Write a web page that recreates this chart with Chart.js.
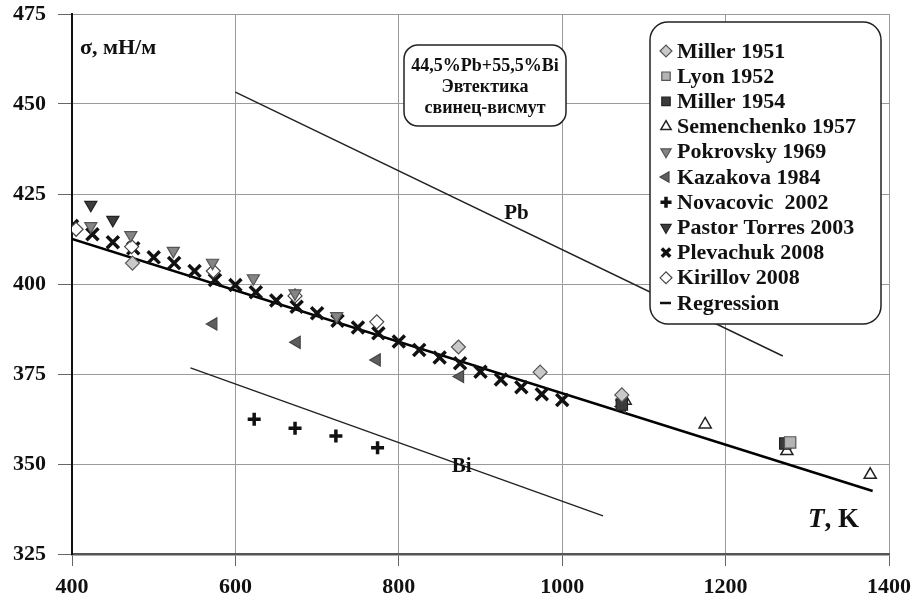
<!DOCTYPE html>
<html>
<head>
<meta charset="utf-8">
<script src="https://cdn.jsdelivr.net/npm/chart.js@4.4.0/dist/chart.umd.min.js"></script>
<style>
  body { margin: 0; background: #fff; }
  #wrap { width: 913px; height: 614px; }
</style>
</head>
<body>
<div id="wrap"><canvas id="chart"></canvas></div>
<script>
// data: T in K, sigma in mN/m
const miller1951T = [474, 873, 973, 1073];
const miller1951S = [405.8, 382.5, 375.5, 369.2];
const lyonT = [1279];
const lyonS = [356];
const miller1954T = [1073, 1273];
const miller1954S = [366.5, 355.7];
const semenT = [1077, 1175, 1275, 1377];
const semenS = [367.6, 361, 353.6, 347];
const pokrovT = [423, 472, 524, 572, 622, 673, 724];
const pokrovS = [416.1, 413.6, 409.2, 405.9, 401.6, 397.4, 391.1];
const kazakT = [573, 675, 773, 875, 1073];
const kazakS = [388.9, 383.8, 378.9, 374.3, 366];
const novacT = [623, 673, 723, 774];
const novacS = [362.4, 359.9, 357.8, 354.5];
const pastorT = [423, 450, 1073];
const pastorS = [422, 417.8, 366.8];
const plevT = [400, 425, 450, 475, 500, 525, 550, 575, 600, 625, 650, 675, 700,
               725, 750, 775, 800, 825, 850, 875, 900, 925, 950, 975, 1000];
const plevS = [416.1, 413.8, 411.6, 409.9, 407.4, 405.8, 403.6, 401.1, 399.7, 397.7, 395.4, 393.7, 391.9,
               389.8, 387.9, 386.3, 384, 381.7, 379.6, 378, 375.6, 373.5, 371.3, 369.4, 367.8];
const kirillovT = [405, 473, 573, 673, 773];
const kirillovS = [415.2, 410.4, 403.6, 396.7, 389.5];
const regT = [400, 1380];
const regS = [412.5, 342.5];
const pbT = [600, 1270];
const pbS = [453.3, 380];
const biT = [545, 1050];
const biS = [376.7, 335.6];

const xTicks = [400, 600, 800, 1000, 1200, 1400];
const yTicks = [325, 350, 375, 400, 425, 450, 475];

const SERIF = "'Liberation Serif', 'Times New Roman', serif";

function pts(xs, ys) { return xs.map((x, i) => ({ x, y: ys[i] })); }

function markers(label, xs, ys, style, extra) {
  return Object.assign({
    label,
    data: pts(xs, ys),
    showLine: false,
    pointStyle: style,
    pointRadius: 7,
    pointBorderWidth: 1.2,
    pointBackgroundColor: '#fff',
    pointBorderColor: '#333'
  }, extra);
}

function line(label, xs, ys, width, color) {
  return {
    label, data: pts(xs, ys), showLine: true, pointRadius: 0,
    borderColor: color, borderWidth: width, fill: false
  };
}

const datasets = [
  line('Pb', pbT, pbS, 1.4, '#222'),
  line('Bi', biT, biS, 1.4, '#222'),
  markers('Miller 1951', miller1951T, miller1951S, 'rectRot', { pointBackgroundColor: '#c9c9c9', pointBorderColor: '#555' }),
  markers('Lyon 1952', lyonT, lyonS, 'rect', { pointRadius: 8, pointBackgroundColor: '#b4b4b4', pointBorderColor: '#555' }),
  markers('Miller 1954', miller1954T, miller1954S, 'rect', { pointRadius: 8, pointBackgroundColor: '#3a3a3a', pointBorderColor: '#222' }),
  markers('Semenchenko 1957', semenT, semenS, 'triangle', { pointBorderColor: '#222', pointBorderWidth: 1.5 }),
  markers('Pokrovsky 1969', pokrovT, pokrovS, 'triangle', { pointRotation: 180, pointBackgroundColor: '#858585', pointBorderColor: '#555' }),
  markers('Kazakova 1984', kazakT, kazakS, 'triangle', { pointRotation: 270, pointBackgroundColor: '#5e5e5e', pointBorderColor: '#444' }),
  markers('Novacovic  2002', novacT, novacS, 'cross', { pointRadius: 6.5, pointBorderWidth: 3.5, pointBorderColor: '#111' }),
  markers('Pastor Torres 2003', pastorT, pastorS, 'triangle', { pointRotation: 180, pointBackgroundColor: '#3d3d3d', pointBorderColor: '#222' }),
  markers('Kirillov 2008', kirillovT, kirillovS, 'rectRot', { pointBorderColor: '#444' }),
  markers('Plevachuk 2008', plevT, plevS, 'crossRot', { pointRadius: 8.5, pointBorderWidth: 3.5, pointBorderColor: '#111' }),
  line('Regression', regT, regS, 2.5, '#000')
];

const legendOrder = ['Miller 1951', 'Lyon 1952', 'Miller 1954', 'Semenchenko 1957', 'Pokrovsky 1969',
  'Kazakova 1984', 'Novacovic  2002', 'Pastor Torres 2003', 'Plevachuk 2008', 'Kirillov 2008', 'Regression'];

function roundBox(ctx, x, y, w, h, r) {
  ctx.beginPath();
  ctx.moveTo(x + r, y);
  ctx.arcTo(x + w, y, x + w, y + h, r);
  ctx.arcTo(x + w, y + h, x, y + h, r);
  ctx.arcTo(x, y + h, x, y, r);
  ctx.arcTo(x, y, x + w, y, r);
  ctx.closePath();
  ctx.fillStyle = '#fff';
  ctx.fill();
  ctx.lineWidth = 1.5;
  ctx.strokeStyle = '#222';
  ctx.stroke();
}

const extras = {
  id: 'extras',
  afterDatasetsDraw(chart) {
    const ctx = chart.ctx;
    const xs = chart.scales.x, ys = chart.scales.y;
    ctx.save();
    ctx.fillStyle = '#111';
    ctx.textBaseline = 'middle';

    // composition box
    roundBox(ctx, 404, 45, 162, 81, 14);
    ctx.fillStyle = '#111';
    ctx.textAlign = 'center';
    ctx.font = 'bold 18px ' + SERIF;
    ctx.fillText('44,5%Pb+55,5%Bi', 485, 66);
    ctx.fillText('Эвтектика', 485, 87);
    ctx.fillText('свинец-висмут', 485, 108);

    // line labels
    ctx.font = 'bold 21px ' + SERIF;
    ctx.fillText('Pb', xs.getPixelForValue(944), ys.getPixelForValue(419.7));
    ctx.fillText('Bi', xs.getPixelForValue(877), ys.getPixelForValue(349.4));

    // axis titles
    ctx.textAlign = 'left';
    ctx.font = 'bold 22px ' + SERIF;
    ctx.fillText('σ, мН/м', 80, 48);
    ctx.font = 'italic bold 27px ' + SERIF;
    ctx.fillText('T', 808, 520);
    const tw = ctx.measureText('T').width;
    ctx.font = 'bold 27px ' + SERIF;
    ctx.fillText(', K', 808 + tw, 520);

    // legend
    roundBox(ctx, 650, 22, 231, 302, 18);
    ctx.font = 'bold 22px ' + SERIF;
    legendOrder.forEach((name, i) => {
      const ds = chart.data.datasets.find(d => d.label === name);
      const y = 51 + i * 25.2;
      if (ds.showLine) {
        ctx.strokeStyle = '#111';
        ctx.lineWidth = 2.5;
        ctx.beginPath();
        ctx.moveTo(660, y);
        ctx.lineTo(671, y);
        ctx.stroke();
      } else {
        ctx.fillStyle = ds.pointBackgroundColor;
        ctx.strokeStyle = ds.pointBorderColor;
        ctx.lineWidth = ds.pointBorderWidth;
        Chart.helpers.drawPoint(ctx, {
          pointStyle: ds.pointStyle,
          rotation: ds.pointRotation || 0,
          radius: Math.min(ds.pointRadius, 7) * 0.85,
          borderWidth: ds.pointBorderWidth
        }, 666, y);
      }
      ctx.fillStyle = '#111';
      ctx.fillText(name, 677, y + 1);
    });
    ctx.restore();
  }
};

new Chart(document.getElementById('chart'), {
  type: 'scatter',
  data: { datasets },
  options: {
    responsive: true,
    maintainAspectRatio: false,
    animation: false,
    layout: { padding: { top: 14, right: 24, left: 0, bottom: 0 } },
    plugins: { legend: { display: false }, tooltip: { enabled: false } },
    scales: {
      x: {
        type: 'linear', min: 400, max: 1400,
        afterFit(s) { s.height = 60; s.paddingLeft = 0; s.paddingRight = 0; },
        afterBuildTicks(s) { s.ticks = xTicks.map(v => ({ value: v })); },
        grid: { color: '#9a9a9a', lineWidth: 1, tickLength: 12, tickColor: '#666' },
        border: { color: '#555', width: 2.5 },
        ticks: { color: '#111', padding: 8, callback: v => String(v), font: { family: SERIF, size: 22, weight: 'bold' } }
      },
      y: {
        type: 'linear', min: 325, max: 475,
        afterFit(s) { s.width = 72; s.paddingTop = 0; s.paddingBottom = 0; },
        afterBuildTicks(s) { s.ticks = yTicks.map(v => ({ value: v })); },
        grid: { color: '#9a9a9a', lineWidth: 1, tickLength: 14, tickColor: '#666' },
        border: { color: '#111', width: 2 },
        ticks: { color: '#111', padding: 12, callback: v => String(v), font: { family: SERIF, size: 22, weight: 'bold' } }
      }
    }
  },
  plugins: [extras]
});
</script>
</body>
</html>
